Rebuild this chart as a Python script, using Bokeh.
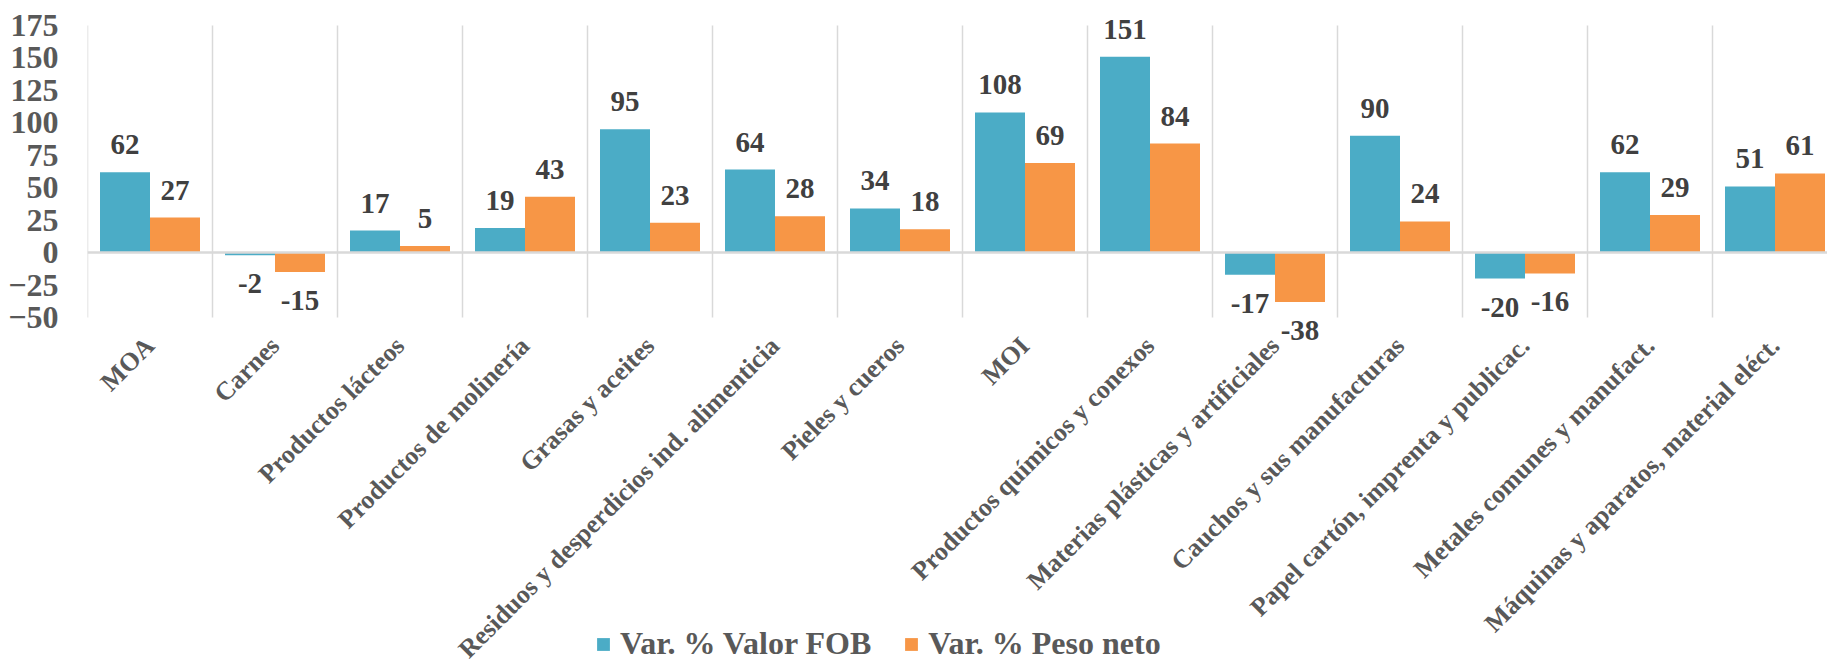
import math
from bokeh.plotting import figure
from bokeh.models import (Range1d, FixedTicker, ColumnDataSource, LabelSet, Legend,
                          LegendItem, Span)
from bokeh.embed import file_html
from bokeh.resources import INLINE

categories = ["MOA", "Carnes", "Productos lácteos", "Productos de molinería",
              "Grasas y aceites", "Residuos y desperdicios ind. alimenticia",
              "Pieles y cueros", "MOI", "Productos químicos y conexos",
              "Materias plásticas y artificiales", "Cauchos y sus manufacturas",
              "Papel cartón, imprenta y publicac.", "Metales comunes y manufact.",
              "Máquinas y aparatos, material eléct."]
valor_fob = [62, -2, 17, 19, 95, 64, 34, 108, 151, -17, 90, -20, 62, 51]
peso_neto = [27, -15, 5, 43, 23, 28, 18, 69, 84, -38, 24, -16, 29, 61]
series_names = ["Var. % Valor FOB", "Var. % Peso neto"]
y_ticks = [-50, -25, 0, 25, 50, 75, 100, 125, 150, 175]

BLUE = "#4BACC6"
ORANGE = "#F79646"
GRID = "#D9D9D9"
TXT = "#595959"
DTXT = "#404040"
FONT = "Liberation Serif"

W, H = 1827, 665
LEFT = 87          # plot area left edge (px)
TOP_PX = 25        # pixel row of the top tick
BOT_PX = 317       # pixel row of the bottom tick
CAT_PX = 125.0     # pixels per category

n = len(categories)
ymin, ymax = min(y_ticks), max(y_ticks)
ppu = (BOT_PX - TOP_PX) / float(ymax - ymin)
y_top = ymax + TOP_PX / ppu
y_bot = y_top - H / ppu

centers = [i + 0.5 for i in range(n)]
x_fob = [c - 0.2 for c in centers]
x_pes = [c + 0.2 for c in centers]
bounds = list(range(n + 1))

p = figure(width=W, height=H, output_backend="svg", toolbar_location=None,
           x_range=Range1d(0, (W - LEFT) / CAT_PX), y_range=Range1d(y_bot, y_top),
           x_axis_location=None,
           min_border_left=LEFT, min_border_right=0, min_border_top=0,
           min_border_bottom=0)
p.outline_line_color = None
p.background_fill_color = "white"
p.border_fill_color = "white"
p.xgrid.visible = False
p.ygrid.visible = False

# y axis
p.yaxis.ticker = FixedTicker(ticks=y_ticks)
p.yaxis.axis_line_color = None
p.yaxis.major_tick_line_color = None
p.yaxis.minor_tick_line_color = None
p.yaxis.major_tick_out = 0
p.yaxis.major_tick_in = 0
p.yaxis.major_label_standoff = 29
p.yaxis.major_label_text_font = FONT
p.yaxis.major_label_text_font_style = "bold"
p.yaxis.major_label_text_font_size = "32px"
p.yaxis.major_label_text_color = TXT

# vertical gridlines at category boundaries, only across the value range
p.segment(x0=bounds, x1=bounds, y0=[ymin] * (n + 1), y1=[ymax] * (n + 1),
          line_color=GRID, line_width=1.5)

r1 = p.vbar(x=x_fob, top=valor_fob, bottom=0, width=0.4, fill_color=BLUE, line_color=None)
r2 = p.vbar(x=x_pes, top=peso_neto, bottom=0, width=0.4, fill_color=ORANGE, line_color=None)

p.add_layout(Span(location=0, dimension="width", line_color=GRID, line_width=2.5))

# data labels
xs = x_fob + x_pes
vals = valor_fob + peso_neto
lab_src = ColumnDataSource(dict(
    x=xs, y=vals, text=[str(v) for v in vals],
    yoff=[18 if v >= 0 else -38 for v in vals]))
p.add_layout(LabelSet(x="x", y="y", text="text", source=lab_src, y_offset="yoff",
                      text_align="center", text_baseline="alphabetic",
                      text_font=FONT, text_font_style="bold",
                      text_font_size="29px", text_color=DTXT))

# category labels (rotated 45 degrees)
cat_src = ColumnDataSource(dict(x=centers, y=[ymin] * n, text=categories))
p.add_layout(LabelSet(x="x", y="y", text="text", source=cat_src,
                      x_offset=0, y_offset=-24, angle=math.pi / 4,
                      text_align="right", text_baseline="middle",
                      text_font=FONT, text_font_style="bold",
                      text_font_size="26px", text_color=TXT))

legend = Legend(items=[LegendItem(label=series_names[0], renderers=[r1]),
                       LegendItem(label=series_names[1], renderers=[r2])],
                location=(508, 3), orientation="horizontal",
                glyph_width=16, glyph_height=16, label_standoff=9, spacing=32,
                padding=0, margin=0, border_line_color=None,
                background_fill_alpha=0,
                label_text_font=FONT, label_text_font_style="bold",
                label_text_font_size="32px", label_text_color=TXT)
p.add_layout(legend)

open("out.html", "w").write(file_html(p, INLINE))
